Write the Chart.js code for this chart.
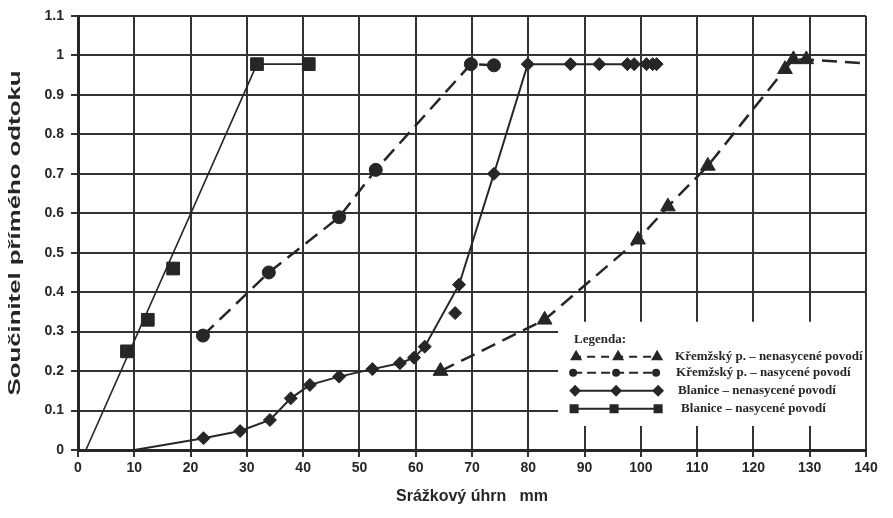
<!DOCTYPE html>
<html>
<head>
<meta charset="utf-8">
<script src="https://cdn.jsdelivr.net/npm/chart.js@4.4.1/dist/chart.umd.min.js"></script>
<style>
  html, body { margin: 0; padding: 0; background: #fff; }
  #wrap { width: 893px; height: 518px; }
</style>
</head>
<body>
<div id="wrap"><canvas id="runoffChart" width="893" height="518"></canvas></div>
<script>
// axis ticks
const xTickValues = [0, 10, 20, 30, 40, 50, 60, 70, 80, 90, 100, 110, 120, 130, 140];
const yTickValues = [0, 0.1, 0.2, 0.3, 0.4, 0.5, 0.6, 0.7, 0.8, 0.9, 1, 1.1];

// Křemžský p. – nenasycené povodí (last point is the end of the dashed tail)
const kremNenasX = [64.4, 82.9, 99.5, 104.8, 111.9, 125.6, 127.1, 129.4, 140];
const kremNenasY = [0.20, 0.33, 0.533, 0.617, 0.72, 0.965, 0.99, 0.99, 0.98];

// Křemžský p. – nasycené povodí
const kremNasX = [22.2, 33.9, 46.4, 52.9, 69.8, 73.9];
const kremNasY = [0.29, 0.45, 0.59, 0.71, 0.978, 0.975];

// Blanice – nenasycené povodí (first point is where the curve starts)
const blanNenasX = [10, 22.3, 28.8, 34.1, 37.8, 41.2, 46.4, 52.3, 57.2, 59.7, 61.6, 67.7, 73.9, 79.9, 87.5, 92.6, 97.6, 98.8, 101.0, 102.1, 102.8];
const blanNenasY = [0, 0.03, 0.048, 0.076, 0.131, 0.165, 0.186, 0.205, 0.22, 0.234, 0.262, 0.419, 0.70, 0.978, 0.978, 0.978, 0.978, 0.978, 0.978, 0.978, 0.978];
// measured point off the curve
const blanNenasOffX = [67.0];
const blanNenasOffY = [0.347];

// Blanice – nasycené povodí: measured points and the drawn line
const blanNasX = [8.7, 12.4, 16.9, 31.8, 41.0];
const blanNasY = [0.25, 0.33, 0.46, 0.978, 0.978];
const blanNasLineX = [1.4, 31.8, 41.0];
const blanNasLineY = [0, 0.978, 0.978];

const legendItems = [
    'Křemžský p. – nenasycené povodí',
    'Křemžský p. – nasycené povodí',
    'Blanice – nenasycené povodí',
    'Blanice – nasycené povodí'
];
const yTitle = 'Součinitel přímého odtoku';

const ink = '#262626';
const gridInk = '#333';
const sans = '"Liberation Sans", Arial, sans-serif';

function toPoints(xs, ys) {
    return xs.map((x, i) => ({ x: x, y: ys[i] }));
}

// white page behind the chart
const whiteBg = {
    id: 'whiteBg',
    beforeDraw(chart) {
        const c = chart.ctx;
        c.save();
        c.fillStyle = '#fff';
        c.fillRect(0, 0, chart.width, chart.height);
        c.restore();
    }
};

// y axis title, stretched along the axis
const yAxisTitle = {
    id: 'yAxisTitle',
    afterDraw(chart) {
        const c = chart.ctx;
        const area = chart.chartArea;
        const length = 325;
        c.save();
        c.font = 'bold 16px ' + sans;
        c.fillStyle = ink;
        c.textBaseline = 'middle';
        c.textAlign = 'center';
        const w = c.measureText(yTitle).width;
        c.translate(16, (area.top + area.bottom) / 2);
        c.rotate(-Math.PI / 2);
        c.scale(length / w, 1);
        c.fillText(yTitle, 0, 0);
        c.restore();
    }
};

// one sample row of the legend box
function sampleRow(c, y, style, dash, x0, x1, marks, size) {
    c.save();
    c.strokeStyle = ink;
    c.fillStyle = ink;
    c.lineWidth = 2;
    c.setLineDash(dash);
    c.beginPath();
    c.moveTo(x0, y);
    c.lineTo(x1, y);
    c.stroke();
    c.setLineDash([]);
    marks.forEach(mx => Chart.helpers.drawPoint(c, { pointStyle: style, radius: size, borderWidth: 1 }, mx, y));
    c.restore();
}

const legendBox = {
    id: 'legendBox',
    afterDatasetsDraw(chart) {
        const c = chart.ctx;
        const xs = chart.scales.x, ys = chart.scales.y;
        const left = xs.getPixelForValue(85.3);
        const right = xs.getPixelForValue(140) - 1;
        const top = ys.getPixelForValue(0.325);
        const bottom = ys.getPixelForValue(0.061);
        c.save();
        c.fillStyle = '#fff';
        c.fillRect(left, top, right - left, bottom - top);

        c.fillStyle = ink;
        c.font = 'bold 13px "Liberation Serif", "Times New Roman", serif';
        c.textBaseline = 'middle';
        c.fillText('Legenda:', left + 16, top + 18);

        const rows = [top + 35, top + 51, top + 69, top + 87];
        const textX = [left + 117, left + 118, left + 120, left + 123];
        sampleRow(c, rows[0], 'triangle', [8, 6], left + 15, left + 100, [left + 18, left + 60, left + 99], 5);
        sampleRow(c, rows[1], 'circle', [9, 5], left + 15, left + 99, [left + 15, left + 58, left + 98], 3);
        sampleRow(c, rows[2], 'rectRot', [], left + 15, left + 101, [left + 17, left + 58, left + 100], 4.5);
        sampleRow(c, rows[3], 'rect', [], left + 15, left + 101, [left + 16, left + 56, left + 100], 5);

        c.fillStyle = ink;
        c.font = 'bold 13px "Liberation Serif", "Times New Roman", serif';
        legendItems.forEach((t, i) => c.fillText(t, textX[i], rows[i]));
        c.restore();
    }
};

const ctx = document.getElementById('runoffChart').getContext('2d');

new Chart(ctx, {
    type: 'scatter',
    data: {
        datasets: [
            {
                label: legendItems[0],
                data: toPoints(kremNenasX, kremNenasY),
                showLine: true,
                borderColor: ink,
                borderWidth: 2.5,
                borderDash: [15, 8],
                pointStyle: 'triangle',
                pointRadius: c => c.dataIndex === kremNenasX.length - 1 ? 0 : 8.5,
                pointBackgroundColor: ink,
                pointBorderColor: ink,
                pointBorderWidth: 1
            },
            {
                label: legendItems[1],
                data: toPoints(kremNasX, kremNasY),
                showLine: true,
                borderColor: ink,
                borderWidth: 2.5,
                borderDash: [15, 8],
                pointStyle: 'circle',
                pointRadius: 6.5,
                pointBackgroundColor: ink,
                pointBorderColor: ink,
                pointBorderWidth: 1
            },
            {
                label: legendItems[2],
                data: toPoints(blanNenasX, blanNenasY),
                showLine: true,
                borderColor: ink,
                borderWidth: 2,
                tension: 0,
                pointStyle: 'rectRot',
                pointRadius: c => c.dataIndex === 0 ? 0 : 6.5,
                pointBackgroundColor: ink,
                pointBorderColor: ink,
                pointBorderWidth: 1
            },
            {
                label: 'off',
                data: toPoints(blanNenasOffX, blanNenasOffY),
                showLine: false,
                pointStyle: 'rectRot',
                pointRadius: 6.5,
                pointBackgroundColor: ink,
                pointBorderColor: ink,
                pointBorderWidth: 1
            },
            {
                label: legendItems[3],
                data: toPoints(blanNasLineX, blanNasLineY),
                showLine: true,
                borderColor: ink,
                borderWidth: 1.6,
                pointRadius: 0
            },
            {
                label: 'points',
                data: toPoints(blanNasX, blanNasY),
                showLine: false,
                pointStyle: 'rect',
                pointRadius: 9,
                pointBackgroundColor: ink,
                pointBorderColor: ink,
                pointBorderWidth: 1
            }
        ]
    },
    options: {
        responsive: false,
        animation: false,
        events: [],
        layout: { padding: { left: 0, right: 27, top: 16, bottom: 0 } },
        plugins: {
            legend: { display: false },
            tooltip: { enabled: false }
        },
        scales: {
            x: {
                type: 'linear',
                min: 0,
                max: 140,
                afterBuildTicks: s => { s.ticks = xTickValues.map(v => ({ value: v })); },
                afterFit: s => { s.height = 68; },
                grid: { color: gridInk, lineWidth: 2, tickLength: 7, tickColor: gridInk, tickWidth: 2 },
                border: { color: ink, width: 3 },
                ticks: {
                    color: ink,
                    padding: 3,
                    maxRotation: 0,
                    font: { family: sans, size: 14, weight: 'bold' }
                },
                title: {
                    display: true,
                    text: 'Srážkový úhrn   mm',
                    color: ink,
                    padding: { top: 0, bottom: 12 },
                    font: { family: sans, size: 16, weight: 'bold' }
                }
            },
            y: {
                type: 'linear',
                min: 0,
                max: 1.1,
                afterBuildTicks: s => { s.ticks = yTickValues.map(v => ({ value: v })); },
                afterFit: s => { s.width = 78; },
                grid: { color: gridInk, lineWidth: 2, tickLength: 7, tickColor: gridInk, tickWidth: 2 },
                border: { color: ink, width: 3 },
                ticks: {
                    color: ink,
                    padding: 7,
                    callback: v => String(+v.toFixed(1)),
                    font: { family: sans, size: 14, weight: 'bold' }
                }
            }
        }
    },
    plugins: [whiteBg, legendBox, yAxisTitle]
});
</script>
</body>
</html>
